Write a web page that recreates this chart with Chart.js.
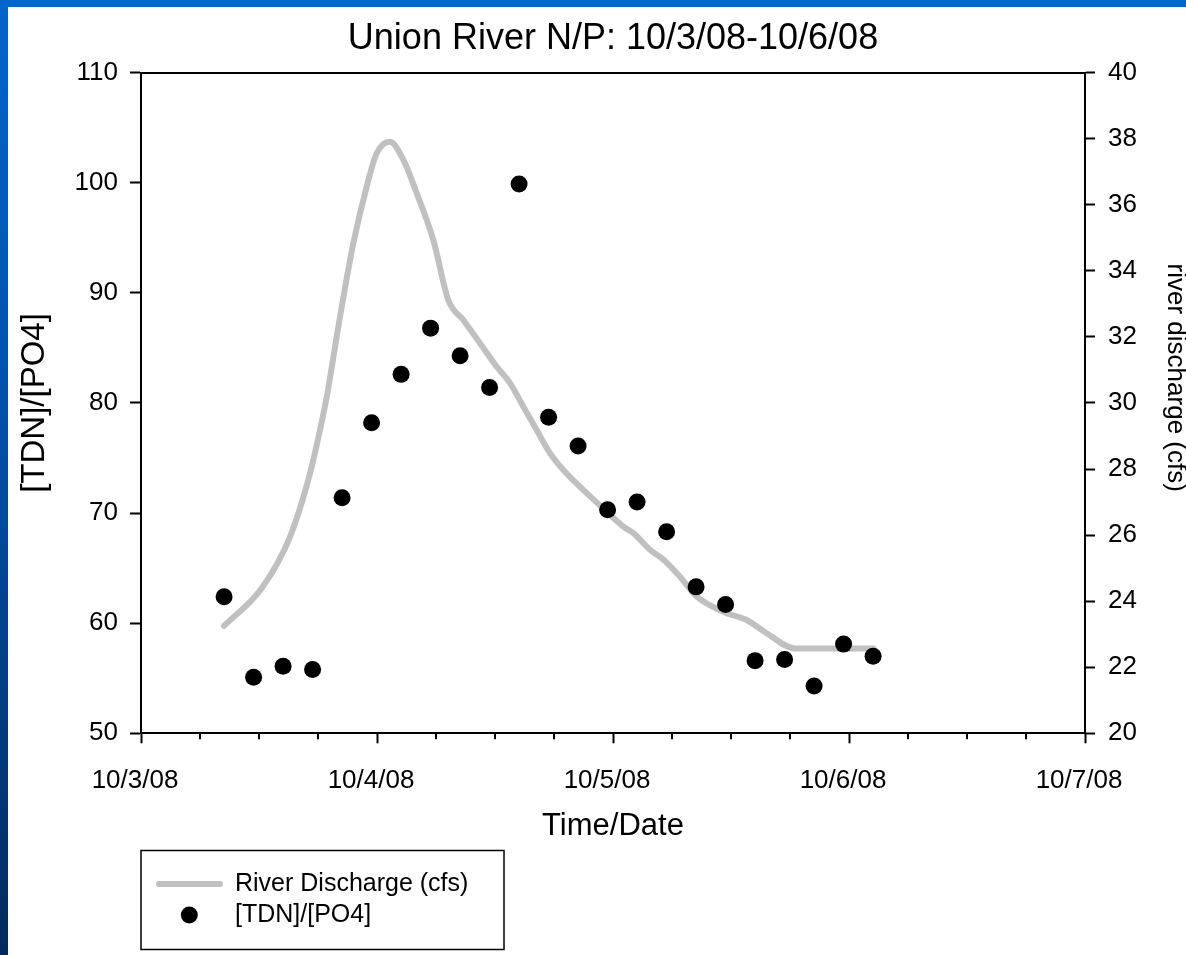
<!DOCTYPE html>
<html>
<head>
<meta charset="utf-8">
<script src="https://cdn.jsdelivr.net/npm/chart.js@4.4.1/dist/chart.umd.min.js"></script>
<style>
html,body{margin:0;padding:0;overflow:hidden;width:1186px;height:955px}
body{background:linear-gradient(to bottom,#0066cc 0%,#0050a8 45%,#002b5c 100%);position:relative}
#wrap{position:absolute;left:8px;top:7px;width:1178px;height:948px;background:#fff}
canvas{display:block}
</style>
</head>
<body>
<div id="wrap"><canvas id="c" width="1178" height="948"></canvas></div>
<script>
// ---- data ----
const chartTitle = 'Union River N/P: 10/3/08-10/6/08';
const xTickLabels = ['10/3/08', '10/4/08', '10/5/08', '10/6/08', '10/7/08']; // every 24 h
// hours since 10/3/08 00:00
const sampleHours = [8.45, 11.45, 14.45, 17.45, 20.45, 23.45, 26.45, 29.45, 32.45, 35.45, 38.45, 41.45,
                     44.45, 47.45, 50.45, 53.45, 56.45, 59.45, 62.45, 65.45, 68.45, 71.45, 74.45];
const tdnPo4 = [62.4, 55.1, 56.1, 55.8, 71.4, 78.2, 82.6, 86.8, 84.3, 81.4, 99.9, 78.7,
                76.1, 70.3, 71.0, 68.3, 63.3, 61.7, 56.6, 56.7, 54.3, 58.1, 57.0];
const dischargeHours = [8.44, 12.27, 15.15, 17.19, 18.2, 18.89, 20.24, 21.59, 22.95, 23.97, 25.32, 26.68,
                        28.04, 29.73, 31.25, 32.78, 34.48, 36.17, 37.53, 38.88, 40.24, 41.59, 42.95, 45.33,
                        47.36, 49.05, 50.07, 51.76, 53.12, 54.81, 56.51, 59.22, 61.6, 63.63, 66.51, 74.47];
const dischargeCfs = [23.25, 24.39, 25.95, 27.87, 29.18, 30.19, 32.61, 34.83, 36.55, 37.56, 37.91, 37.36,
                      36.35, 34.93, 33.12, 32.51, 31.81, 31.10, 30.60, 29.89, 29.18, 28.48, 27.97, 27.27,
                      26.71, 26.26, 26.06, 25.56, 25.26, 24.74, 24.14, 23.68, 23.43, 23.03, 22.57, 22.57];

const FONT = '"Liberation Sans", Arial, sans-serif';
const BLACK = '#000000';

// minor ticks (6 h) drawn shorter than the daily ticks
const minorTicks = {
  id: 'minorTicks',
  afterDraw(chart) {
    const sc = chart.scales.x;
    const ctx = chart.ctx;
    ctx.save();
    ctx.strokeStyle = BLACK;
    ctx.lineWidth = 2;
    sc.ticks.forEach(t => {
      if (t.value % 24 !== 0) {
        const px = Math.round(sc.getPixelForValue(t.value));
        ctx.beginPath();
        ctx.moveTo(px, sc.top);
        ctx.lineTo(px, sc.top + 6);
        ctx.stroke();
      }
    });
    ctx.restore();
  }
};

// boxed legend, items stacked as in the reference
const boxLegend = {
  id: 'boxLegend',
  afterDraw(chart) {
    const ctx = chart.ctx;
    const x0 = chart.chartArea.left;
    const y0 = 843.5, w = 363, h = 99;
    ctx.save();
    ctx.strokeStyle = BLACK;
    ctx.lineWidth = 1.5;
    ctx.strokeRect(x0, y0, w, h);
    ctx.font = '25px ' + FONT;
    ctx.textBaseline = 'middle';
    ctx.textAlign = 'left';
    ctx.fillStyle = BLACK;
    const rows = [877, 908];
    chart.data.datasets.forEach((ds, i) => {
      const y = rows[i];
      if (ds.type === 'line') {
        ctx.strokeStyle = ds.borderColor;
        ctx.lineWidth = ds.borderWidth;
        ctx.lineCap = 'round';
        ctx.beginPath();
        ctx.moveTo(x0 + 18, y);
        ctx.lineTo(x0 + 79, y);
        ctx.stroke();
      } else {
        ctx.fillStyle = ds.backgroundColor;
        ctx.beginPath();
        ctx.arc(x0 + 48.3, y, ds.pointRadius, 0, Math.PI * 2);
        ctx.fill();
      }
      ctx.fillStyle = BLACK;
      ctx.fillText(ds.label, x0 + 94, y);
    });
    ctx.restore();
  }
};

new Chart(document.getElementById('c'), {
  data: {
    datasets: [
      {
        type: 'line',
        label: 'River Discharge (cfs)',
        data: dischargeHours.map((h, i) => ({x: h, y: dischargeCfs[i]})),
        yAxisID: 'y1',
        borderColor: '#c0c0c0',
        borderWidth: 6,
        borderCapStyle: 'round',
        borderJoinStyle: 'round',
        pointRadius: 0,
        cubicInterpolationMode: 'monotone',
        fill: false,
        order: 2
      },
      {
        type: 'scatter',
        label: '[TDN]/[PO4]',
        data: sampleHours.map((h, i) => ({x: h, y: tdnPo4[i]})),
        yAxisID: 'y',
        backgroundColor: BLACK,
        borderWidth: 0,
        pointRadius: 8.5,
        pointHoverRadius: 8.5,
        order: 1
      }
    ]
  },
  options: {
    responsive: false,
    animation: false,
    devicePixelRatio: 1,
    layout: {padding: 0},
    plugins: {
      legend: {display: false},
      tooltip: {enabled: false},
      title: {
        display: true,
        text: chartTitle,
        fullSize: false,
        color: BLACK,
        font: {family: FONT, size: 36, weight: 'normal'},
        padding: {top: 10.4, bottom: 12.1}
      }
    },
    scales: {
      x: {
        type: 'linear',
        position: 'bottom',
        min: 0,
        max: 96,
        afterFit(s) { s.height = 221.7; },
        ticks: {
          stepSize: 6,
          autoSkip: false,
          maxRotation: 0,
          padding: 22,
          labelOffset: -6,
          color: BLACK,
          font: {family: FONT, size: 26},
          callback: v => (v % 24 === 0 ? xTickLabels[v / 24] : '')
        },
        grid: {
          drawOnChartArea: false,
          tickLength: 10,
          tickWidth: 2,
          tickColor: c => (c.tick && c.tick.value % 24 === 0 ? BLACK : 'rgba(0,0,0,0)')
        },
        border: {display: true, color: BLACK, width: 2},
        title: {
          display: true,
          text: 'Time/Date',
          color: BLACK,
          font: {family: FONT, size: 31},
          padding: {top: 0, bottom: 110.4}
        }
      },
      xTop: {
        type: 'linear',
        position: 'top',
        min: 0,
        max: 96,
        afterFit(s) { s.height = 0; },
        ticks: {display: false},
        grid: {drawOnChartArea: false, drawTicks: false},
        border: {display: true, color: BLACK, width: 2}
      },
      y: {
        type: 'linear',
        position: 'left',
        min: 50,
        max: 110,
        afterFit(s) { s.width = 133; },
        ticks: {
          stepSize: 10,
          padding: 12,
          color: BLACK,
          font: {family: FONT, size: 26}
        },
        grid: {drawOnChartArea: false, tickLength: 11, tickWidth: 2, tickColor: BLACK},
        border: {display: true, color: BLACK, width: 2},
        title: {
          display: true,
          text: '[TDN]/[PO4]',
          color: BLACK,
          font: {family: FONT, size: 33},
          padding: {top: 7.4, bottom: 0}
        }
      },
      y1: {
        type: 'linear',
        position: 'right',
        min: 20,
        max: 40,
        afterFit(s) { s.width = 101; },
        ticks: {
          stepSize: 2,
          padding: 13,
          color: BLACK,
          font: {family: FONT, size: 26}
        },
        grid: {drawOnChartArea: false, tickLength: 10, tickWidth: 2, tickColor: BLACK},
        border: {display: true, color: BLACK, width: 2},
        title: {
          display: true,
          text: 'river discharge (cfs)       ',
          color: BLACK,
          font: {family: FONT, size: 26},
          padding: {top: -5, bottom: 0}
        }
      }
    }
  },
  plugins: [minorTicks, boxLegend]
});
</script>
</body>
</html>
